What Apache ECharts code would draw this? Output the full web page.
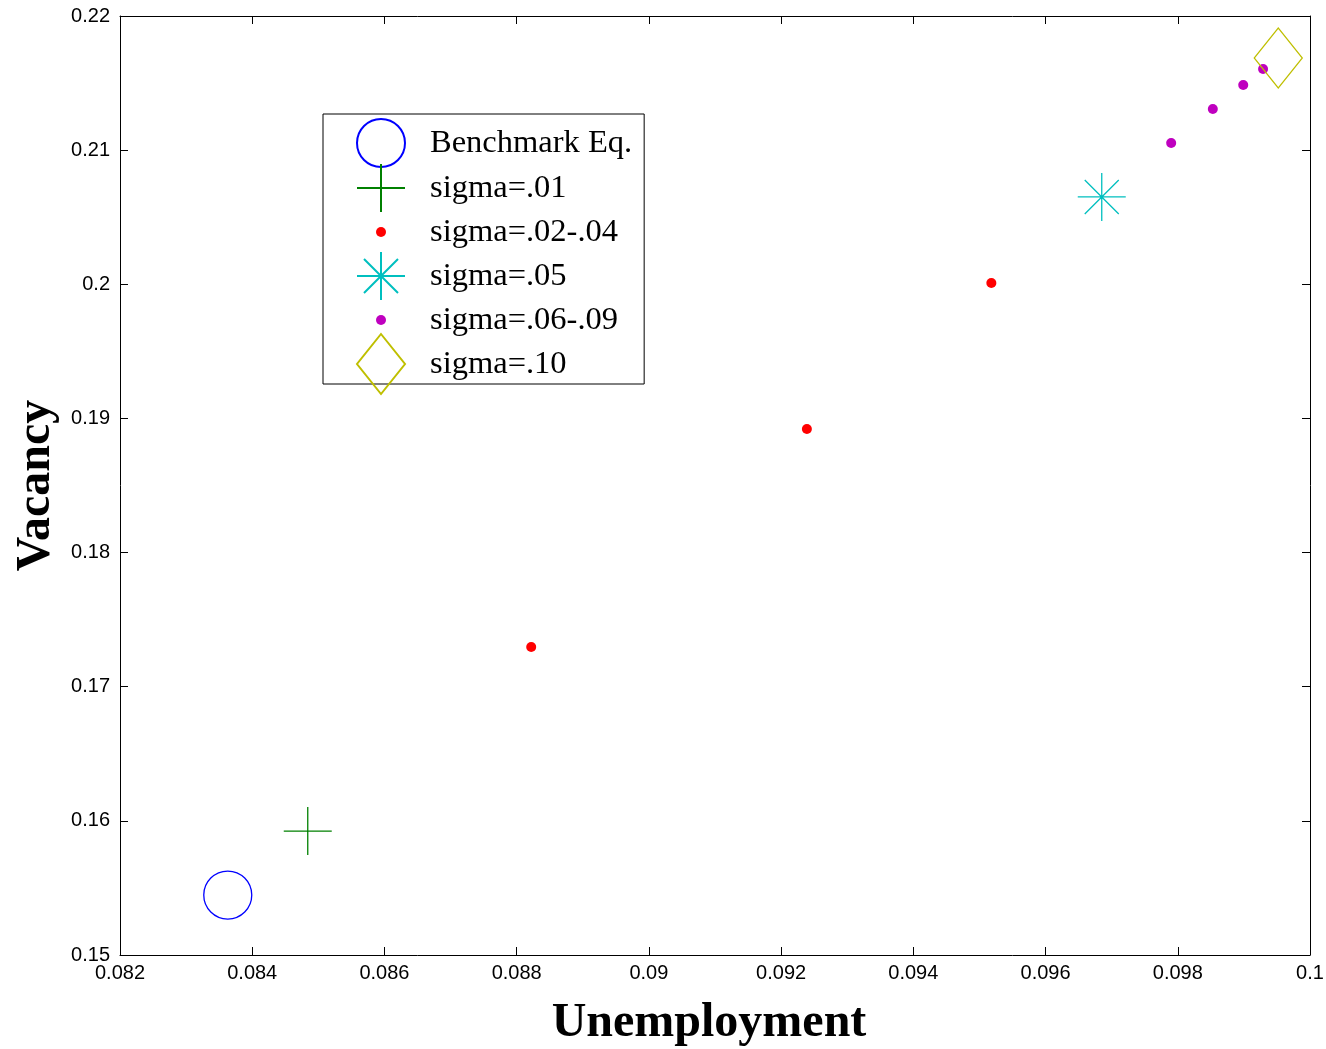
<!DOCTYPE html>
<html>
<head>
<meta charset="utf-8">
<script src="https://cdn.jsdelivr.net/npm/echarts@6/dist/echarts.min.js"></script>
<style>html,body{margin:0;padding:0;background:#fff;}#chart{width:1326px;height:1049px;}</style>
</head>
<body>
<div id="chart"></div>
<script>
// ---- data ----
const seriesNames = ['Benchmark Eq.', 'sigma=.01', 'sigma=.02-.04', 'sigma=.05', 'sigma=.06-.09', 'sigma=.10'];
const benchmark = [[0.08363, 0.15447]];
const sigma01 = [[0.08484, 0.15924]];
const sigma02to04 = [[0.08822, 0.17296], [0.09239, 0.18921], [0.09518, 0.2001]];
const sigma05 = [[0.09685, 0.20651]];
const sigma06to09 = [[0.09790, 0.21053], [0.09853, 0.21307], [0.09899, 0.21486], [0.09929, 0.21605]];
const sigma10 = [[0.09952, 0.21687]];
const xMin = 0.082, xMax = 0.1, xStep = 0.002;
const yMin = 0.15, yMax = 0.22, yStep = 0.01;

// ---- symbols ----
const plusPath = 'path://M0 24 L48 24 M24 0 L24 48';
const starPath = 'path://M0 24 L48 24 M24 0 L24 48 M7 7 L41 41 M41 7 L7 41';
const diamondPath = 'path://M24 0 L48 30 L24 60 L0 30 Z';
// legend icons in a common padded frame (68 x 60)
const pad = 'M0 0 M68 60 ';
const legCircle = 'path://' + pad + 'M0 30 A24 24 0 1 1 48 30 A24 24 0 1 1 0 30 Z';
const legPlus = 'path://' + pad + 'M0 30 L48 30 M24 6 L24 54';
const legDot = 'path://' + pad + 'M19 30 A5 5 0 1 1 29 30 A5 5 0 1 1 19 30 Z';
const legStar = 'path://' + pad + 'M0 30 L48 30 M24 6 L24 54 M7 13 L41 47 M41 13 L7 47';
const legDiamond = 'path://' + pad + 'M24 0 L48 30 L24 60 L0 30 Z';

const blue = '#0000ff', green = '#008000', red = '#ff0000', cyan = '#00bfbf', magenta = '#bf00bf', olive = '#bfbf00';

const chart = echarts.init(document.getElementById('chart'), null, {renderer: 'canvas'});
const axisCommon = {
  axisLine: {show: true, onZero: false, lineStyle: {color: '#000', width: 1}},
  axisTick: {show: true, inside: true, length: 8, lineStyle: {color: '#000', width: 1}},
  splitLine: {show: false}
};
const tickFont = {color: '#000', fontSize: 20, fontFamily: 'Liberation Sans, Arial, sans-serif'};
const nameFont = {color: '#000', fontSize: 48, fontWeight: 'bold', fontFamily: 'Liberation Serif, Times New Roman, serif'};

const option = {
  animation: false,
  backgroundColor: '#fff',
  grid: {left: 120, right: 16, top: 16, bottom: 94, containLabel: false, outerBoundsMode: 'none'},
  xAxis: [
    Object.assign({type: 'value', min: xMin, max: xMax, interval: xStep, position: 'bottom',
      name: 'Unemployment', nameLocation: 'middle', nameGap: 45,
      nameTextStyle: Object.assign({padding: [0, 12, 0, 0]}, nameFont),
      axisLabel: Object.assign({margin: 8}, tickFont)}, axisCommon),
    Object.assign({type: 'value', min: xMin, max: xMax, interval: xStep, position: 'top',
      axisLabel: {show: false}}, axisCommon)
  ],
  yAxis: [
    Object.assign({type: 'value', min: yMin, max: yMax, interval: yStep, position: 'left',
      name: 'Vacancy', nameLocation: 'middle', nameGap: 57, nameTextStyle: nameFont,
      axisLabel: Object.assign({margin: 10}, tickFont)}, axisCommon),
    Object.assign({type: 'value', min: yMin, max: yMax, interval: yStep, position: 'right',
      axisLabel: {show: false}}, axisCommon)
  ],
  legend: {
    orient: 'vertical', left: 323, top: 114,
    padding: [-2, 12, -11, 33],
    itemWidth: 68, itemHeight: 60, itemGap: -17,
    borderColor: '#000', borderWidth: 1, backgroundColor: '#fff',
    textStyle: {color: '#000', fontSize: 32.5, fontFamily: 'Liberation Serif, Times New Roman, serif'},
    selectedMode: false,
    data: [
      {name: seriesNames[0], icon: legCircle},
      {name: seriesNames[1], icon: legPlus},
      {name: seriesNames[2], icon: legDot},
      {name: seriesNames[3], icon: legStar},
      {name: seriesNames[4], icon: legDot},
      {name: seriesNames[5], icon: legDiamond}
    ]
  },
  series: [
    {name: seriesNames[0], type: 'scatter', data: benchmark, symbol: 'circle', symbolSize: 48,
      itemStyle: {color: 'transparent', borderColor: blue, borderWidth: 1.3, opacity: 1}},
    {name: seriesNames[1], type: 'scatter', data: sigma01, symbol: plusPath, symbolSize: 48,
      itemStyle: {color: 'transparent', borderColor: green, borderWidth: 1.3, opacity: 1}},
    {name: seriesNames[2], type: 'scatter', data: sigma02to04, symbol: 'circle', symbolSize: 10,
      itemStyle: {color: red, borderWidth: 0, opacity: 1}},
    {name: seriesNames[3], type: 'scatter', data: sigma05, symbol: starPath, symbolSize: 48,
      itemStyle: {color: 'transparent', borderColor: cyan, borderWidth: 1.3, opacity: 1}},
    {name: seriesNames[4], type: 'scatter', data: sigma06to09, symbol: 'circle', symbolSize: 10,
      itemStyle: {color: magenta, borderWidth: 0, opacity: 1}},
    {name: seriesNames[5], type: 'scatter', data: sigma10, symbol: diamondPath, symbolSize: [48, 60],
      itemStyle: {color: 'transparent', borderColor: olive, borderWidth: 1.3, opacity: 1}}
  ]
};
chart.setOption(option);
</script>
</body>
</html>
